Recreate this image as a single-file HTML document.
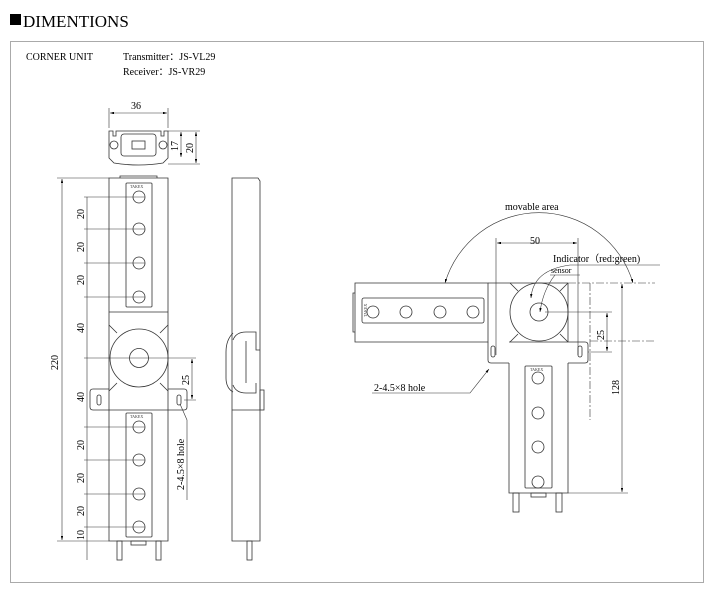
<!DOCTYPE html>
<html><head><meta charset="utf-8"><style>
html,body{margin:0;padding:0;background:#fff;}
svg{display:block;font-family:"Liberation Serif",serif;}
</style></head><body>
<svg width="714" height="595" viewBox="0 0 714 595" xmlns="http://www.w3.org/2000/svg">
<defs>
<marker id="a" viewBox="0 0 10 6" refX="10" refY="3" markerWidth="7" markerHeight="4" orient="auto-start-reverse"><path d="M0,0L10,3L0,6z" fill="#000"/></marker>
</defs>
<rect x="10" y="14" width="11" height="11" fill="#000"/>
<text x="23" y="27" font-size="17">DIMENTIONS</text>
<rect x="10.5" y="41.5" width="693" height="541" fill="none" stroke="#aaa"/>
<text x="26" y="60" font-size="10">CORNER UNIT</text>
<text x="123" y="60" font-size="10">Transmitter：JS-VL29</text>
<text x="123" y="75" font-size="10">Receiver：JS-VR29</text>

<g fill="none" stroke="#333" stroke-width="0.8">
<path d="M109,131 V158 L114,163 Q139,167 163,163 L168,158 V131 H164 V136 H161 V131 H116 V136 H113 V131 Z"/>
<rect x="121" y="134" width="35" height="22" rx="3"/>
<rect x="132" y="141" width="13" height="8"/>
<circle cx="114" cy="145" r="4"/><circle cx="163" cy="145" r="4"/>
<path d="M109,178 V541 H168 V178 Z"/>
<path d="M120,178 V176 H157 V178"/>
<rect x="126" y="183" width="26" height="124" rx="1"/>
<circle cx="139" cy="197" r="6"/><circle cx="139" cy="229" r="6"/><circle cx="139" cy="263" r="6"/><circle cx="139" cy="297" r="6"/>
<line x1="109" y1="312" x2="168" y2="312"/>
<circle cx="139" cy="358" r="29"/><circle cx="139" cy="358" r="9.5"/>
<path d="M109,325 L117,333 M168,325 L160,333 M109,391 L117,383 M168,391 L160,383"/>
<path d="M109,389 H93 Q90,389 90,392 V407 Q90,410 93,410 H109 M168,389 H184 Q187,389 187,392 V407 Q187,410 184,410 H168"/>
<line x1="109" y1="410" x2="168" y2="410"/>
<rect x="97" y="395" width="4" height="10" rx="2"/><rect x="177" y="395" width="4" height="10" rx="2"/>
<rect x="126" y="413" width="26" height="124" rx="1"/>
<circle cx="139" cy="427" r="6"/><circle cx="139" cy="460" r="6"/><circle cx="139" cy="494" r="6"/><circle cx="139" cy="527" r="6"/>
<rect x="117" y="541" width="5" height="19"/><rect x="156" y="541" width="5" height="19"/>
<rect x="131" y="541" width="15" height="4"/>
<path d="M232,178 V541 H260 V181 L258,178 Z"/>
<path d="M233,333 Q226,340 226,352 V378 Q226,388 233,392"/>
<path d="M233,340 Q236,332 246,332 H256 V350 H260 M233,385 Q236,393 246,393 H256 V383"/>
<line x1="246" y1="341" x2="246" y2="383"/>
<rect x="260" y="390" width="4" height="20"/>
<line x1="232" y1="410" x2="260" y2="410"/>
<rect x="247" y="541" width="5" height="19"/>
<path d="M355,283 H488 V342 H355 Z"/>
<path d="M355,293 H353 V332 H355"/>
<rect x="362" y="298" width="122" height="25" rx="2"/>
<circle cx="373" cy="312" r="6"/><circle cx="406" cy="312" r="6"/><circle cx="440" cy="312" r="6"/><circle cx="473" cy="312" r="6"/>
<line x1="488" y1="283" x2="568" y2="283"/>
<line x1="568" y1="283" x2="568" y2="342"/>
<circle cx="539" cy="312" r="29"/><circle cx="539" cy="312" r="9"/>
<path d="M510,283 L518,291 M568,283 L560,291 M510,342 L518,334 M568,342 L560,334"/>
<path d="M488,342 V360 Q488,363 491,363 H509 M568,342 H585 Q588,342 588,345 V360 Q588,363 585,363 H568"/>
<line x1="509" y1="342" x2="568" y2="342"/>
<rect x="491" y="346" width="4" height="11" rx="2"/><rect x="578" y="346" width="4" height="11" rx="2"/>
<path d="M509,363 V493 H568 V363"/>
<rect x="525" y="366" width="27" height="122" rx="1"/>
<circle cx="538" cy="378" r="6"/><circle cx="538" cy="413" r="6"/><circle cx="538" cy="447" r="6"/><circle cx="538" cy="482" r="6"/>
<rect x="513" y="493" width="6" height="19"/><rect x="556" y="493" width="6" height="19"/>
<rect x="531" y="493" width="15" height="4"/>
</g>
<g font-size="4" fill="#333"><text x="130" y="188">TAKEX</text><text x="130" y="418">TAKEX</text><text x="530" y="371">TAKEX</text>
<text transform="translate(367,317) rotate(-90)">TAKEX</text></g>

<g fill="none" stroke="#333" stroke-width="0.6">
<path d="M109,128 V108 M168,128 V108 M168,131 H200 M168,164 H200"/>
<line x1="110" y1="113" x2="167" y2="113" marker-start="url(#a)" marker-end="url(#a)"/>
<line x1="181" y1="132" x2="181" y2="157" marker-start="url(#a)" marker-end="url(#a)"/>
<line x1="196" y1="132" x2="196" y2="163" marker-start="url(#a)" marker-end="url(#a)"/>
<line x1="62" y1="179" x2="62" y2="540" marker-start="url(#a)" marker-end="url(#a)"/>
<path d="M57,178 H109 M57,541 H109"/>
<path d="M84,197 H145 M84,229 H145 M84,263 H145 M84,297 H145 M84,358 H196 M84,427 H145 M84,460 H145 M84,494 H145 M84,527 H145 M184,400 H196"/>
<line x1="87" y1="197" x2="87" y2="560"/>
<line x1="192" y1="359" x2="192" y2="399" marker-start="url(#a)" marker-end="url(#a)"/>
<path d="M180,404 L187,420 V500"/>
<path d="M496,238 V355 M578,238 V355"/>
<line x1="497" y1="243" x2="577" y2="243" marker-start="url(#a)" marker-end="url(#a)"/>
<path d="M545,312 H612 M588,352 H612 M568,493 H628"/>
<line x1="607" y1="313" x2="607" y2="351" marker-start="url(#a)" marker-end="url(#a)"/>
<line x1="622" y1="284" x2="622" y2="492" marker-start="url(#a)" marker-end="url(#a)"/>
<path d="M568,283 H655 M590,341 H655 M590,283 V420" stroke-dasharray="8,2,2,2"/>
<path d="M445,283 A98,98 0 0 1 633,283" marker-start="url(#a)" marker-end="url(#a)"/>
<path d="M570,265 H660 M550,275 H580"/>
<path d="M570,265 Q533,270 531,298" marker-end="url(#a)"/>
<path d="M555,275 Q543,290 540,312" marker-end="url(#a)"/>
<path d="M372,393 H470 L489,369" marker-end="url(#a)"/>
</g>

<g font-size="10" fill="#000">
<text x="131" y="109">36</text>
<text transform="translate(178,151) rotate(-90)">17</text>
<text transform="translate(193,153) rotate(-90)">20</text>
<text transform="translate(58,370) rotate(-90)">220</text>
<text transform="translate(84,219) rotate(-90)">20</text>
<text transform="translate(84,252) rotate(-90)">20</text>
<text transform="translate(84,285) rotate(-90)">20</text>
<text transform="translate(84,333) rotate(-90)">40</text>
<text transform="translate(84,402) rotate(-90)">40</text>
<text transform="translate(84,450) rotate(-90)">20</text>
<text transform="translate(84,483) rotate(-90)">20</text>
<text transform="translate(84,516) rotate(-90)">20</text>
<text transform="translate(84,540) rotate(-90)">10</text>
<text transform="translate(189,385) rotate(-90)">25</text>
<text transform="translate(184,490) rotate(-90)">2-4.5×8 hole</text>
<text x="505" y="210">movable area</text>
<text x="530" y="244">50</text>
<text x="553" y="262">Indicator（red:green)</text>
<text x="551" y="273" font-size="8">sensor</text>
<text transform="translate(604,340) rotate(-90)">25</text>
<text transform="translate(619,395) rotate(-90)">128</text>
<text x="374" y="391">2-4.5×8 hole</text>
</g>
</svg>
</body></html>
